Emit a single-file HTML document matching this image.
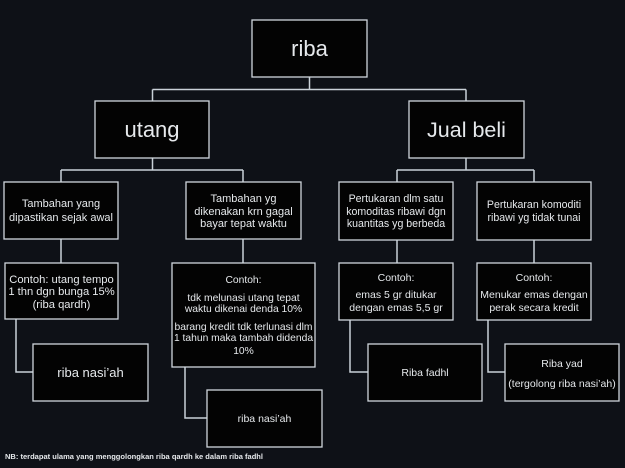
<!DOCTYPE html>
<html>
<head>
<meta charset="utf-8">
<style>
html,body{margin:0;padding:0;background:#0e1117;}
svg{display:block;}
text{font-family:"Liberation Sans",sans-serif;fill:#e6e9ec;}
</style>
</head>
<body>
<svg width="625" height="468" viewBox="0 0 625 468" xmlns="http://www.w3.org/2000/svg">
<rect x="0" y="0" width="625" height="468" fill="#0e1117"/>
<g stroke="#c9d1d8" stroke-width="1.5" fill="none">
  <!-- riba to level 2 -->
  <path d="M309.5 77 V89.5 M152.5 89.5 H466 M152.5 89.5 V101 M466 89.5 V101"/>
  <!-- utang -->
  <path d="M152.5 158 V170 M61 170 H243 M61 170 V182 M243 170 V182"/>
  <!-- jual beli -->
  <path d="M466 158 V170 M397 170 H534 M397 170 V182 M534 170 V182"/>
  <!-- to contoh -->
  <path d="M61 239 V263 M243 239 V263 M397 240 V263 M534 240 V263"/>
  <!-- to bottom -->
  <path d="M16 319 V372 H33 M185 367 V418 H207 M350 320 V372 H368 M488 320 V372 H505"/>
</g>
<g fill="#030303" stroke="#cfd6dc" stroke-width="1.3">
  <rect x="252" y="20" width="115" height="57"/>
  <rect x="95" y="101" width="114" height="57"/>
  <rect x="409" y="101" width="115" height="57"/>
  <rect x="4" y="182" width="114" height="57"/>
  <rect x="186" y="182" width="115" height="57"/>
  <rect x="339" y="182" width="114" height="58"/>
  <rect x="477" y="182" width="114" height="58"/>
  <rect x="5" y="263" width="113" height="56"/>
  <rect x="172" y="263" width="143" height="104"/>
  <rect x="339" y="263" width="114" height="57"/>
  <rect x="477" y="263" width="114" height="57"/>
  <rect x="33" y="344" width="115" height="57"/>
  <rect x="207" y="390" width="115" height="57"/>
  <rect x="368" y="344" width="114" height="57"/>
  <rect x="505" y="344" width="114" height="57"/>
</g>
<g text-anchor="middle">
  <text x="309.5" y="56" font-size="22">riba</text>
  <text x="152" y="137" font-size="22">utang</text>
  <text x="466.5" y="137" font-size="21.5">Jual beli</text>

  <g font-size="11">
    <text x="61" y="207">Tambahan yang</text>
    <text x="61" y="221">dipastikan sejak awal</text>

    <text x="243.5" y="202">Tambahan yg</text>
    <text x="243.5" y="215">dikenakan krn gagal</text>
    <text x="243.5" y="227">bayar tepat waktu</text>
  </g>
  <g font-size="10.6">
    <text x="396" y="202">Pertukaran dlm satu</text>
    <text x="396" y="215">komoditas ribawi dgn</text>
    <text x="396" y="227">kuantitas yg berbeda</text>

    <text x="534" y="208">Pertukaran komoditi</text>
    <text x="534" y="221">ribawi yg tidak tunai</text>
  </g>
  <g font-size="11.2">
    <text x="61.5" y="283">Contoh: utang tempo</text>
    <text x="61.5" y="295">1 thn dgn bunga 15%</text>
    <text x="61.5" y="308">(riba qardh)</text>
  </g>
  <g font-size="10.3">
    <text x="243.5" y="283">Contoh:</text>
    <text x="243.5" y="301">tdk melunasi utang tepat</text>
    <text x="243.5" y="312">waktu dikenai  denda 10%</text>
    <text x="243.5" y="330">barang kredit tdk terlunasi dlm</text>
    <text x="243.5" y="341">1 tahun maka tambah didenda</text>
    <text x="243.5" y="354">10%</text>
  </g>
  <g font-size="10.5">
    <text x="396" y="281">Contoh:</text>
    <text x="396" y="298">emas 5 gr ditukar</text>
    <text x="396" y="311">dengan emas 5,5 gr</text>

    <text x="534" y="281">Contoh:</text>
    <text x="534" y="298">Menukar emas dengan</text>
    <text x="534" y="311">perak secara kredit</text>
  </g>
  <text x="90.5" y="377" font-size="13">riba nasi’ah</text>
  <text x="264.5" y="422" font-size="10.5">riba nasi’ah</text>
  <text x="425" y="376" font-size="10.5">Riba fadhl</text>
  <text x="562" y="367" font-size="10.5">Riba yad</text>
  <text x="562" y="387" font-size="10.5">(tergolong riba nasi’ah)</text>
</g>
<text x="5" y="459" font-size="7.6" font-weight="bold" textLength="258" lengthAdjust="spacingAndGlyphs">NB: terdapat ulama yang menggolongkan riba qardh ke dalam riba fadhl</text>
</svg>
</body>
</html>
